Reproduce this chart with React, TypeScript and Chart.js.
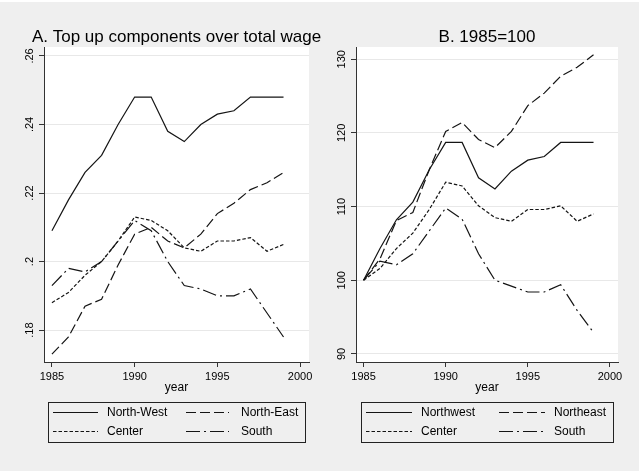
import React, { useEffect, useRef } from 'react';
import { Chart, registerables } from 'chart.js';

Chart.register(...registerables);

// ---------------- data ----------------
const years = [1985, 1986, 1987, 1988, 1989, 1990, 1991, 1992, 1993, 1994, 1995, 1996, 1997, 1998, 1999];
const xTickValues = [1985, 1990, 1995, 2000];

const titleA = 'A. Top up components over total wage';
const titleB = 'B. 1985=100';
const xAxisTitle = 'year';

const namesA = ['North-West', 'North-East', 'Center', 'South'];
const namesB = ['Northwest', 'Northeast', 'Center', 'South'];

const yTicksA = [0.18, 0.2, 0.22, 0.24, 0.26];
const yTickLabelsA = ['.18', '.2', '.22', '.24', '.26'];
const yTicksB = [90, 100, 110, 120, 130];
const yTickLabelsB = ['90', '100', '110', '120', '130'];

const northWestA = [0.209, 0.218, 0.226, 0.231, 0.240, 0.248, 0.248, 0.238, 0.235, 0.240, 0.243, 0.244, 0.248, 0.248, 0.248];
const northEastA = [0.173, 0.178, 0.187, 0.189, 0.199, 0.208, 0.210, 0.206, 0.204, 0.208, 0.214, 0.217, 0.221, 0.223, 0.226];
const centerA = [0.188, 0.191, 0.196, 0.200, 0.206, 0.213, 0.212, 0.209, 0.204, 0.203, 0.206, 0.206, 0.207, 0.203, 0.205];
const southA = [0.193, 0.198, 0.197, 0.200, 0.206, 0.212, 0.209, 0.200, 0.193, 0.192, 0.190, 0.190, 0.192, 0.185, 0.178];

const northWestB = [100, 104.3, 108.2, 110.6, 115.0, 118.7, 118.7, 113.9, 112.4, 114.8, 116.3, 116.8, 118.7, 118.7, 118.7];
const northEastB = [100, 102.9, 108.1, 109.2, 115.0, 120.2, 121.4, 119.1, 118.0, 120.2, 123.7, 125.4, 127.7, 128.9, 130.6];
const centerB = [100, 101.6, 104.3, 106.4, 109.6, 113.3, 112.8, 110.1, 108.5, 108.0, 109.6, 109.6, 110.1, 108.0, 109.0];
const southB = [100, 102.6, 102.1, 103.6, 106.7, 109.8, 108.3, 103.6, 100.0, 99.2, 98.4, 98.4, 99.4, 95.9, 92.9];

// ---------------- styles ----------------
const FONT = '"Liberation Sans", Arial, Helvetica, sans-serif';
const LINE_COLOR = '#141414';
const AXIS_COLOR = '#333333';
const GRID_COLOR = '#e8e8e8';
const BG = '#efefef';
const DASHES: number[][] = [[], [10, 4], [3.5, 2], [14, 4, 2, 4]];

type PanelProps = {
  left: number;
  width: number;
  plotLeft: number; // absolute page px
  plotRight: number;
  plotTop: number;
  plotBottom: number;
  xMin: number;
  xMax: number;
  yMin: number;
  yMax: number;
  yTicks: number[];
  yTickLabels: string[];
  title: string;
  names: string[];
  series: number[][];
  legendBox: { x1: number; x2: number; y1: number; y2: number };
  legendCols: { s1: number; e1: number; t1: number; s2: number; e2: number; t2: number };
};

const PAGE_H = 471;

function Panel(p: PanelProps) {
  const ref = useRef<HTMLCanvasElement | null>(null);
  useEffect(() => {
    const canvas = ref.current;
    if (!canvas) return;
    const off = p.left;
    const xScaleH = 30;

    const decor = {
      id: 'decor',
      beforeDraw(chart: any) {
        const ctx = chart.ctx;
        const a = chart.chartArea;
        ctx.save();
        ctx.fillStyle = '#ffffff';
        ctx.fillRect(a.left, a.top, a.right - a.left, a.bottom - a.top);
        ctx.restore();
      },
      afterDraw(chart: any) {
        const ctx = chart.ctx;
        const a = chart.chartArea;
        const ys = chart.scales.y;
        ctx.save();
        // y tick labels rotated
        ctx.fillStyle = '#000';
        ctx.font = `11px ${FONT}`;
        ctx.textAlign = 'center';
        ctx.textBaseline = 'middle';
        p.yTicks.forEach((v, i) => {
          const py = ys.getPixelForValue(v);
          ctx.save();
          ctx.translate(a.left - 14, py);
          ctx.rotate(-Math.PI / 2);
          ctx.fillText(p.yTickLabels[i], 0, 0);
          ctx.restore();
        });
        // title
        ctx.font = `17px ${FONT}`;
        ctx.textBaseline = 'alphabetic';
        ctx.fillText(p.title, (a.left + a.right) / 2, 42);
        // x axis title
        ctx.font = `12px ${FONT}`;
        ctx.textBaseline = 'middle';
        ctx.fillText(xAxisTitle, (a.left + a.right) / 2, 388);
        // legend
        const lb = p.legendBox;
        ctx.strokeStyle = '#222';
        ctx.lineWidth = 1;
        ctx.setLineDash([]);
        ctx.strokeRect(Math.round(lb.x1 - off) + 0.5, Math.round(lb.y1) + 0.5, Math.round(lb.x2 - lb.x1), Math.round(lb.y2 - lb.y1));
        const c = p.legendCols;
        const rows = [412.5, 431.5];
        const items = [
          { s: c.s1, e: c.e1, t: c.t1, r: 0 },
          { s: c.s2, e: c.e2, t: c.t2, r: 0 },
          { s: c.s1, e: c.e1, t: c.t1, r: 1 },
          { s: c.s2, e: c.e2, t: c.t2, r: 1 },
        ];
        ctx.font = `12px ${FONT}`;
        ctx.textAlign = 'left';
        items.forEach((it, i) => {
          const y = rows[it.r];
          ctx.strokeStyle = LINE_COLOR;
          ctx.lineWidth = 1.2;
          ctx.setLineDash(DASHES[i]);
          ctx.beginPath();
          ctx.moveTo(it.s - off, y);
          ctx.lineTo(it.e - off, y);
          ctx.stroke();
          ctx.setLineDash([]);
          ctx.fillStyle = '#000';
          ctx.fillText(p.names[i], it.t - off, y + 0.5);
        });
        ctx.restore();
      },
    };

    const chart = new Chart(canvas, {
      type: 'line',
      data: {
        datasets: p.names.map((n, i) => ({
          label: n,
          data: years.map((yr, j) => ({ x: yr, y: p.series[i][j] })),
          borderColor: LINE_COLOR,
          borderWidth: 1.2,
          borderDash: DASHES[i],
          pointRadius: 0,
          tension: 0,
          fill: false,
        })),
      },
      options: {
        animation: false,
        responsive: false,
        maintainAspectRatio: false,
        events: [],
        layout: {
          padding: {
            left: 0,
            top: p.plotTop,
            right: p.left + p.width - p.plotRight,
            bottom: PAGE_H - p.plotBottom - xScaleH,
          },
        },
        plugins: {
          legend: { display: false },
          title: { display: false },
          tooltip: { enabled: false },
        },
        scales: {
          x: {
            type: 'linear',
            min: p.xMin,
            max: p.xMax,
            afterBuildTicks: (s: any) => {
              s.ticks = xTickValues.map((v) => ({ value: v }));
            },
            afterFit: (s: any) => {
              s.height = xScaleH;
            },
            grid: {
              drawOnChartArea: false,
              drawTicks: true,
              tickLength: 5,
              tickColor: AXIS_COLOR,
              tickWidth: 1,
            },
            border: { display: true, color: AXIS_COLOR, width: 1 },
            ticks: {
              font: { family: FONT, size: 11 },
              color: '#000',
              padding: 3,
              maxRotation: 0,
              minRotation: 0,
              autoSkip: false,
              callback: (v: any) => String(v),
            },
          },
          y: {
            type: 'linear',
            min: p.yMin,
            max: p.yMax,
            afterBuildTicks: (s: any) => {
              s.ticks = p.yTicks.map((v) => ({ value: v }));
            },
            afterFit: (s: any) => {
              s.width = p.plotLeft - p.left;
            },
            grid: {
              color: GRID_COLOR,
              lineWidth: 1,
              drawTicks: true,
              tickLength: 5,
              tickColor: AXIS_COLOR,
              tickWidth: 1,
            },
            border: { display: true, color: AXIS_COLOR, width: 1 },
            ticks: { display: false },
          },
        },
      } as any,
      plugins: [decor],
    });
    return () => chart.destroy();
  }, []);

  return (
    <canvas
      ref={ref}
      width={p.width}
      height={PAGE_H}
      style={{ position: 'absolute', left: p.left, top: 0, width: p.width, height: PAGE_H }}
    />
  );
}

export default function App() {
  return (
    <div
      style={{
        position: 'fixed',
        left: 0,
        top: 0,
        width: 639,
        height: 471,
        background: '#ffffff',
        overflow: 'hidden',
      }}
    >
      <div style={{ position: 'absolute', left: 0, top: 2, width: 639, height: 469, background: BG }} />
      <Panel
        left={0}
        width={322}
        plotLeft={44}
        plotRight={309}
        plotTop={47}
        plotBottom={362}
        xMin={1984.52}
        xMax={2000.54}
        yMin={0.1707}
        yMax={0.2626}
        yTicks={yTicksA}
        yTickLabels={yTickLabelsA}
        title={titleA}
        names={namesA}
        series={[northWestA, northEastA, centerA, southA]}
        legendBox={{ x1: 48, x2: 305, y1: 402, y2: 442 }}
        legendCols={{ s1: 53, e1: 98, t1: 107, s2: 186, e2: 229, t2: 241 }}
      />
      <Panel
        left={322}
        width={317}
        plotLeft={356}
        plotRight={618}
        plotTop={47}
        plotBottom={362}
        xMin={1984.54}
        xMax={2000.49}
        yMin={88.9}
        yMax={131.66}
        yTicks={yTicksB}
        yTickLabels={yTickLabelsB}
        title={titleB}
        names={namesB}
        series={[northWestB, northEastB, centerB, southB]}
        legendBox={{ x1: 361, x2: 613, y1: 402, y2: 442 }}
        legendCols={{ s1: 366, e1: 412, t1: 421, s2: 499, e2: 545, t2: 554 }}
      />
    </div>
  );
}
